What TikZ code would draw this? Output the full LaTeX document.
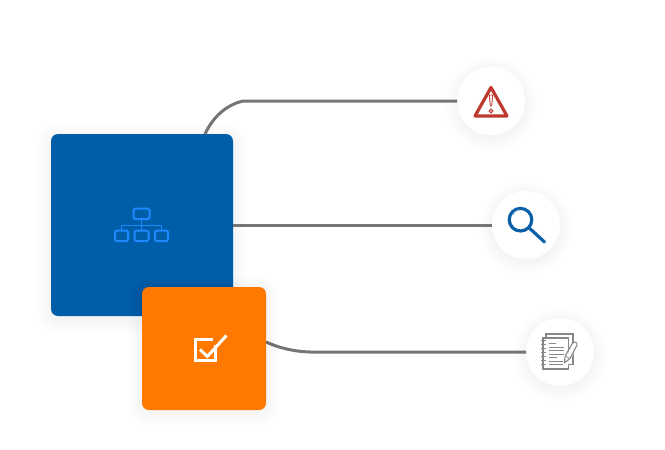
\documentclass[tikz,border=0pt]{standalone}
\usetikzlibrary{calc}
\definecolor{bluebox}{RGB}{0,94,168}
\definecolor{orangebox}{RGB}{255,120,0}
\definecolor{linegray}{RGB}{117,117,117}
\definecolor{alertred}{RGB}{192,57,49}
\definecolor{searchblue}{RGB}{10,95,168}
\definecolor{orgblue}{RGB}{30,136,255}
\definecolor{notegray}{RGB}{135,135,135}
\tikzset{
  card/.style={rectangle,rounded corners=7,inner sep=0pt,outer sep=0pt,draw=none},
  badge/.style={circle,fill=white,minimum size=68,inner sep=0pt,outer sep=0pt,draw=none},
  link/.style={draw=linegray,line width=3},
  orgicon/.style={draw=orgblue,line width=2,rounded corners=1.5},
  checkicon/.style={draw=white,line width=3},
  noteline/.style={draw=notegray,line width=0.8},
  notepage/.style={draw=notegray,line width=1.4},
}
\newcommand{\softbox}[4]{% x0 y0 x1 y1
  \foreach \g in {1,...,10}{
    \pgfmathsetmacro{\rr}{7+\g*1.4}
    \fill[black,opacity=0.0035,rounded corners=\rr]
      ({#1-\g*1.4},{#2-\g*1.4+3}) rectangle ({#3+\g*1.4},{#4+\g*1.4+3});
  }}
\newcommand{\softdisc}[2]{%
  \foreach \g in {1,...,10}{
    \fill[black,opacity=0.0045] (#1,{#2+3}) circle ({33+\g*1.4});
  }}
\begin{document}
\begin{tikzpicture}[x=1pt,y=-1pt]
\useasboundingbox (0,0) rectangle (665,450);
\fill[white] (0,0) rectangle (665,450);
% shadows
\softdisc{491}{101}
\softdisc{526}{225}
\softdisc{560}{352}
\softbox{51}{134}{233}{316}
% badges
\node[badge] (alert) at (491,101) {};
\node[badge] (search) at (526,225) {};
\node[badge] (notes) at (560,352) {};
% main cards
\node[card,fill=bluebox,minimum width=182,minimum height=182] (blue) at (142,225) {};
\coordinate (topstart) at (205,134);
\coordinate (topbend) at (243,101);
\coordinate (notestart) at (266,342);
\coordinate (notebend) at (310,352);
\draw[link] (topstart) .. controls (213,117) and (226,105) .. (topbend) -- (alert.west);
\draw[link] (blue.east) -- (search.west);
\draw[link] (notestart) .. controls (278,347.5) and (293,351.5) .. (notebend) -- (notes.west);
\softbox{142}{287}{266}{410}
\node[card,fill=orangebox,minimum width=124,minimum height=123] (orange) at (204,348.5) {};
% org chart icon
\draw[orgicon] (133.5,208.5) rectangle (149.5,219);
\draw[orgicon] (115,230.5) rectangle (128,241);
\draw[orgicon] (134.5,230.5) rectangle (148.5,241);
\draw[orgicon] (155,230.5) rectangle (168,241);
\draw[draw=orgblue,line width=1.8] (141.5,219) -- (141.5,230.5);
\draw[draw=orgblue,line width=1.8] (121.5,230.5) -- (121.5,225.5) -- (161.5,225.5) -- (161.5,230.5);
% check icon
\draw[checkicon,line join=miter] (215.5,345) -- (215.5,360.5) -- (195,360.5) -- (195,339) -- (213,339);
\draw[checkicon] (200,349.5) -- (207.3,356.5) -- (226.5,335.5);
% alert icon
\draw[draw=alertred,line width=3.2,line join=round] (491,87.5) -- (507,116) -- (475,116) -- cycle;
\draw[draw=alertred,line width=0.9,line join=round] (489.3,95) -- (492.7,95) -- (491.7,106) -- (490.3,106) -- cycle;
\draw[draw=alertred,line width=1.1] (491,111) circle (1.9);
% search icon
\draw[draw=searchblue,line width=3.2] (520.5,219.7) circle (11.3);
\draw[draw=searchblue,line width=3.2,line cap=round] (529.3,228) -- (544.5,242);
\draw[draw=searchblue!35,line width=0.8] (513,215) arc[start angle=200,end angle=260,radius=8];
% notes icon
\draw[notepage] (546,337) -- (546,334) -- (573,334) -- (573,364.5) -- (569,364.5);
\fill[white] (542.5,337.5) rectangle (569,369);
\draw[notepage] (543,338) rectangle (568.5,369);
\foreach \r in {340.5,344.5,348.5,352.5,356.5,360.5,364.5}{
  \draw[draw=notegray,line width=1] (541,\r) -- (546,\r);
}
\draw[noteline] (549,343) -- (556,343);
\draw[noteline] (549,347) -- (564,347);
\draw[noteline] (549,350.5) -- (564,350.5);
\draw[noteline] (549,354) -- (564,354);
\draw[noteline] (549,357.5) -- (557,357.5);
\draw[noteline] (549,361) -- (563,361);
\draw[noteline] (549,364) -- (563,364);
\fill[white] (564,362.5) -- (572.5,343) -- (577.5,345) -- (568,365) -- cycle;
\draw[draw=notegray,line width=1.1,line join=round] (564.3,362.8) -- (565.2,356) -- (572.5,343) .. controls (574,341) and (578,342.5) .. (576.8,345.5) -- (570,358.5) -- cycle;
\draw[draw=notegray,line width=0.7] (566,356.5) -- (570,358.5);
\end{tikzpicture}
\end{document}
